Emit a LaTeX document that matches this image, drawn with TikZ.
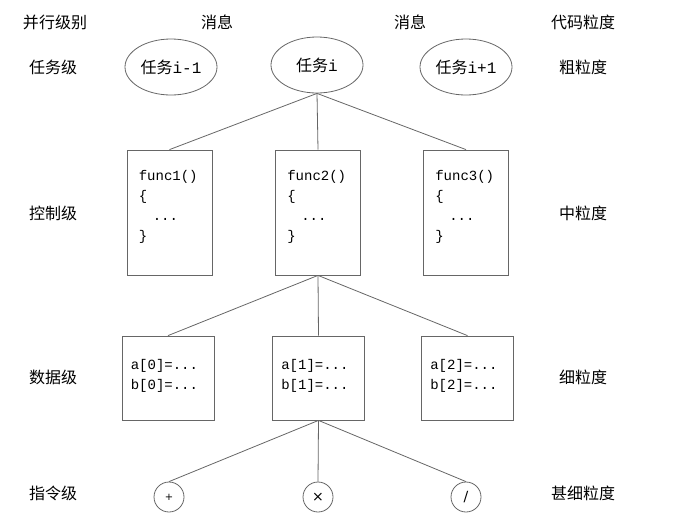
\documentclass[tikz,border=0pt]{standalone}
\usepackage{fontspec}
\setmainfont{Liberation Serif}
\newfontfamily\cjk{Noto Sans CJK SC}
\newfontfamily\codefont{Liberation Mono}
\newfontfamily\symfont{DejaVu Sans}
\usetikzlibrary{shapes.geometric}
\tikzset{
  lbl/.style={font=\cjk\fontsize{16}{18}\selectfont, inner sep=0pt},
  task/.style={ellipse, draw=black!60, line width=0.8pt, minimum width=92pt, minimum height=56pt, inner sep=0pt, font=\cjk\fontsize{16}{18}\selectfont},
  fbox/.style={draw=black!60, line width=0.8pt, minimum width=85pt, minimum height=125pt, inner sep=0pt},
  dbox/.style={draw=black!60, line width=0.8pt, minimum width=92pt, minimum height=84pt, inner sep=0pt},
  op/.style={circle, draw=black!60, line width=0.8pt, minimum size=30pt, inner sep=0pt, font=\symfont\fontsize{14}{14}\selectfont},
  code/.style={font=\codefont\fontsize{14}{20}\selectfont, align=left, inner sep=0pt, anchor=north west},
  conn/.style={draw=black!60, line width=0.8pt}
}
\begin{document}
\begin{tikzpicture}[x=1pt,y=-1pt]
\useasboundingbox (0,0) rectangle (682,520);
% header row
\node[lbl] (h1) at (55,22) {并行级别};
\node[lbl] (h2) at (217,22) {消息};
\node[lbl] (h3) at (410,22) {消息};
\node[lbl] (h4) at (583,22) {代码粒度};
% level labels
\node[lbl] (l1) at (53,67) {任务级};
\node[lbl] (l2) at (53,213) {控制级};
\node[lbl] (l3) at (53,377) {数据级};
\node[lbl] (l4) at (53,493) {指令级};
\node[lbl] (g1) at (583,67) {粗粒度};
\node[lbl] (g2) at (583,213) {中粒度};
\node[lbl] (g3) at (583,377) {细粒度};
\node[lbl] (g4) at (583,493) {甚细粒度};
% tasks
\node[task] (t1) at (171,67) {任务{\codefont i-1}};
\node[task] (t2) at (317,65) {任务{\codefont i}};
\node[task] (t3) at (466,67) {任务{\codefont i+1}};
% function boxes
\node[fbox] (f1) at (169.5,212.5) {};
\node[fbox] (f2) at (318,212.5) {};
\node[fbox] (f3) at (466,212.5) {};
\foreach \b/\n in {f1/1,f2/2,f3/3}{
  \node[code] (c\n) at ([xshift=12pt,yshift=-21pt]\b.north west) {func\n()\\\{\\\hspace{14pt}...\\\}};
}
% data boxes
\node[dbox] (d1) at (168,378) {};
\node[dbox] (d2) at (318.5,378) {};
\node[dbox] (d3) at (467.5,378) {};
\foreach \b/\n in {d1/0,d2/1,d3/2}{
  \node[code] (e\n) at ([xshift=9pt,yshift=-24pt]\b.north west) {a[\n]=...\\b[\n]=...};
}
% ops
\node[op, font=\symfont\fontsize{10}{10}\selectfont] (o1) at (169,497) {+};
\node[op] (o2) at (318,497) {×};
\node[op] (o3) at (466,497) {/};
% connectors
\draw[conn] (t2.south) -- (f1.north);
\draw[conn] (t2.south) -- (f2.north);
\draw[conn] (t2.south) -- (f3.north);
\draw[conn] (f2.south) -- (d1.north);
\draw[conn] (f2.south) -- (d2.north);
\draw[conn] (f2.south) -- (d3.north);
\draw[conn] (d2.south) -- (o1.north);
\draw[conn] (d2.south) -- (o2.north);
\draw[conn] (d2.south) -- (o3.north);
\end{tikzpicture}
\end{document}
